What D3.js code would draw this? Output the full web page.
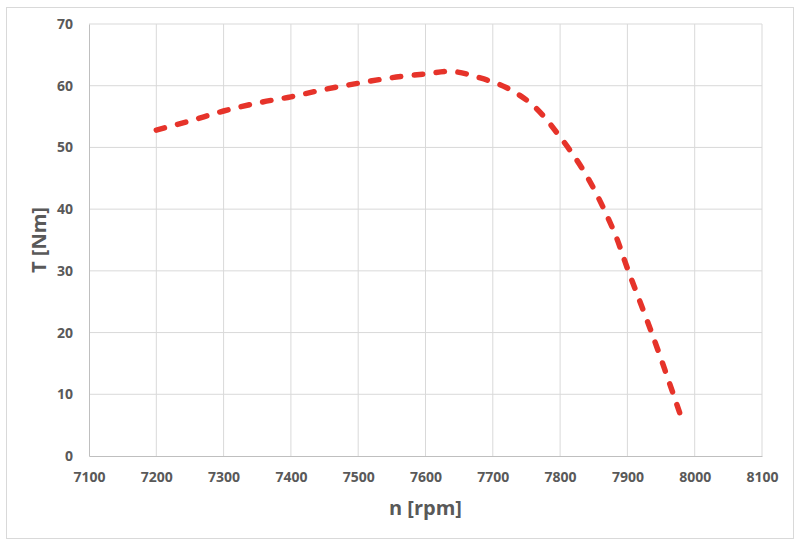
<!DOCTYPE html>
<html>
<head>
<meta charset="utf-8">
<script src="https://cdn.jsdelivr.net/npm/d3@7"></script>
<style>
  body { margin: 0; background: #fff; }
  svg { display: block; }
  .tick text { font-family: "Open Sans", sans-serif; font-weight: 700; font-size: 14px; fill: #595959; }
  .title { font-family: "Open Sans", sans-serif; font-weight: 700; font-size: 20px; fill: #595959; }
</style>
</head>
<body>
<script>
// torque curve
let rpm    = [7200, 7250, 7300, 7350, 7400, 7450, 7500, 7550, 7600, 7640, 7680, 7720, 7760, 7800, 7840, 7880, 7900, 7940, 7978];
let torque = [52.8, 54.3, 55.9, 57.2, 58.2, 59.4, 60.4, 61.3, 61.9, 62.3, 61.3, 59.7, 56.8, 51.7, 45.3, 36.4, 30.4, 18.8, 6.9];

let xTicks = [7100, 7200, 7300, 7400, 7500, 7600, 7700, 7800, 7900, 8000, 8100];
let yTicks = [0, 10, 20, 30, 40, 50, 60, 70];

let W = 801, H = 544;
let margin = {top: 24, right: 39, bottom: 88, left: 89},
    width = W - margin.left - margin.right,
    height = H - margin.top - margin.bottom;

let svg = d3.select('body').append('svg')
    .attr('width', W)
    .attr('height', H);

// outer frame
svg.append('rect')
    .attr('x', 6.5).attr('y', 7.5)
    .attr('width', 787).attr('height', 531)
    .attr('fill', 'none')
    .attr('stroke', '#d9d9d9');

let g = svg.append('g')
    .attr('transform', 'translate(' + margin.left + ',' + margin.top + ')');

let x = d3.scaleLinear().domain([7100, 8100]).range([0, width]);
let y = d3.scaleLinear().domain([0, 70]).range([height, 0]);

// grid
g.append('g').selectAll('line').data(xTicks.slice(1)).enter().append('line')
    .attr('x1', d => x(d)).attr('x2', d => x(d))
    .attr('y1', 0).attr('y2', height)
    .attr('stroke', '#d9d9d9');
g.append('g').selectAll('line').data(yTicks.slice(1)).enter().append('line')
    .attr('x1', 0).attr('x2', width)
    .attr('y1', d => y(d)).attr('y2', d => y(d))
    .attr('stroke', '#d9d9d9');

// axes
let xAxis = g.append('g')
    .attr('transform', 'translate(0,' + height + ')')
    .call(d3.axisBottom(x).tickValues(xTicks).tickSize(0).tickPadding(16).tickFormat(d3.format('d')));
xAxis.select('.domain').attr('stroke', '#bfbfbf');

let yAxis = g.append('g')
    .call(d3.axisLeft(y).tickValues(yTicks).tickSize(0).tickPadding(16).tickFormat(d3.format('d')));
yAxis.select('.domain').attr('stroke', '#bfbfbf');

// curve
let line = d3.line()
    .x((d, i) => x(rpm[i]))
    .y(d => y(d))
    .curve(d3.curveCatmullRom.alpha(0.5));

g.append('path')
    .datum(torque)
    .attr('d', line)
    .attr('fill', 'none')
    .attr('stroke', '#e6332a')
    .attr('stroke-width', 5.5)
    .attr('stroke-linecap', 'round')
    .attr('stroke-dasharray', '8.5,13.5');

// titles
svg.append('text').attr('class', 'title')
    .attr('x', margin.left + width / 2).attr('y', 515)
    .attr('text-anchor', 'middle')
    .text('n [rpm]');

svg.append('text').attr('class', 'title')
    .attr('transform', 'translate(46,' + (margin.top + height / 2) + ') rotate(-90)')
    .attr('text-anchor', 'middle')
    .text('T [Nm]');
</script>
</body>
</html>
